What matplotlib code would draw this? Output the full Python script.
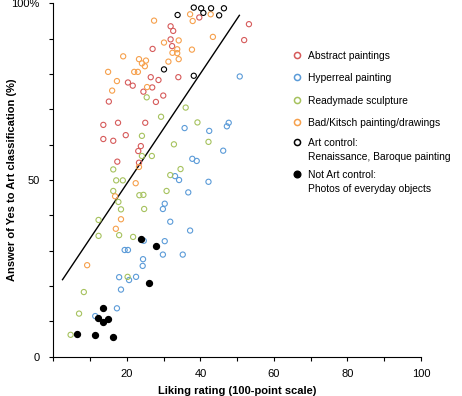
import numpy as np
from matplotlib import pyplot as plt

plt.rcParams['font.family'] = ['Liberation Sans', 'DejaVu Sans']
plt.rcParams['font.size'] = 8

# Liking rating (x) vs % "Yes, it is art" (y)
abstract_x = [39.7, 53.2, 51.9, 31.9, 32.6, 31.9, 32.3, 27.0, 34.0, 26.5, 28.6, 20.3, 21.6, 26.9, 24.5,
              29.9, 15.1, 27.9, 13.6, 17.6, 25.0, 13.6, 16.3, 19.7, 23.8, 23.1, 17.4, 23.3]
abstract_y = [96.0, 94.1, 89.6, 93.5, 92.2, 89.8, 87.9, 87.1, 79.1, 79.1, 78.3, 77.6, 76.7, 76.2, 75.0,
              73.9, 72.2, 72.1, 65.6, 66.2, 66.2, 61.6, 61.1, 62.7, 59.6, 58.2, 55.2, 54.9]

hyperreal_x = [50.7, 35.7, 47.7, 47.2, 42.4, 46.2, 37.8, 39.0, 33.1, 34.2, 42.2, 36.7, 30.3, 29.8, 31.8,
               37.2, 24.6, 30.3, 19.4, 20.3, 29.8, 35.2, 24.4, 24.3, 17.9, 20.6, 22.5, 18.4, 17.3, 11.4]
hyperreal_y = [79.3, 64.7, 66.2, 65.2, 63.9, 58.3, 56.0, 55.4, 51.1, 50.0, 49.5, 46.5, 43.3, 41.8, 38.2,
               35.7, 32.8, 32.7, 30.2, 30.2, 28.9, 28.9, 27.6, 25.7, 22.5, 21.7, 22.6, 19.0, 13.7, 11.5]

readymade_x = [25.4, 36.0, 29.3, 39.2, 24.1, 32.8, 24.1, 26.8, 16.3, 34.6, 31.8, 17.1, 18.9, 16.3, 30.8,
               23.4, 24.5, 17.7, 18.4, 24.7, 12.3, 12.3, 17.9, 21.7, 42.2, 20.2, 8.3, 7.0, 4.7]
readymade_y = [73.4, 70.5, 67.9, 66.3, 62.5, 60.1, 56.8, 56.8, 53.0, 53.1, 51.4, 49.9, 49.9, 46.9, 46.9,
               45.7, 45.8, 43.8, 41.7, 41.8, 38.7, 34.2, 34.4, 33.9, 60.8, 22.6, 18.3, 12.2, 6.2]

kitsch_x = [27.4, 37.2, 37.9, 42.8, 43.4, 30.1, 34.1, 33.7, 32.4, 33.7, 34.1, 31.3, 37.7, 19.0, 23.3,
            25.2, 24.1, 24.9, 14.9, 22.0, 23.0, 17.3, 25.5, 16.0, 23.3, 22.4, 16.8, 18.4, 17.0, 9.2]
kitsch_y = [95.1, 96.9, 95.0, 96.9, 90.5, 88.9, 89.5, 87.0, 86.0, 85.9, 84.2, 83.5, 86.9, 85.0, 84.2,
            83.8, 83.0, 82.2, 80.6, 80.6, 80.6, 78.0, 76.3, 75.3, 53.7, 49.1, 45.4, 38.9, 36.2, 25.9]

art_ctrl_x = [38.2, 33.8, 40.2, 40.8, 42.9, 46.4, 45.1, 30.1, 38.2]
art_ctrl_y = [98.8, 96.7, 98.6, 97.3, 98.6, 98.6, 96.6, 81.3, 79.5]

notart_x = [23.8, 28.0, 26.1, 13.6, 12.1, 14.8, 13.4, 6.5, 11.3, 16.3]
notart_y = [33.2, 31.4, 20.8, 13.8, 11.0, 10.8, 9.8, 6.5, 6.2, 5.7]

fit_x = [2.5, 50.6]
fit_y = [21.8, 96.6]

red = "#d65a5a"
blue = "#5b9bd8"
green = "#a6c25e"
orange = "#f6a04c"

fig = plt.figure(figsize=(4.62, 3.96), dpi=100)
ax = fig.add_axes([0.1154, 0.0992, 0.7959, 0.8924])

ms = 14
lw = 0.8
for xs, ys, c in [(abstract_x, abstract_y, red), (hyperreal_x, hyperreal_y, blue),
                  (readymade_x, readymade_y, green), (kitsch_x, kitsch_y, orange),
                  (art_ctrl_x, art_ctrl_y, "black")]:
    ax.scatter(xs, ys, s=ms, facecolors="none", edgecolors=c, linewidths=lw, clip_on=False, zorder=3)
ax.scatter(notart_x, notart_y, s=18, color="black", clip_on=False, zorder=4)

ax.plot(fit_x, fit_y, color="black", lw=1.0, zorder=2)

ax.set_xlim(0, 100)
ax.set_ylim(0, 100)
ax.set_xticks(np.arange(0, 101, 10))
ax.set_xticklabels(["" if v % 20 or v == 0 else str(v) for v in range(0, 101, 10)])
ax.set_yticks(np.arange(0, 101, 10))
ax.set_yticklabels(["0" if v == 0 else "50" if v == 50 else "100%" if v == 100 else "" for v in range(0, 101, 10)])
ax.tick_params(direction="out", length=3, width=0.8, labelsize=8)
ax.tick_params(axis="x", pad=6)
ax.tick_params(axis="y", pad=7)
for s in ["top", "right"]:
    ax.spines[s].set_visible(False)
for s in ["left", "bottom"]:
    ax.spines[s].set_linewidth(0.8)

ax.set_xlabel("Liking rating (100-point scale)", fontweight="bold", fontsize=8)
ax.set_ylabel("Answer of Yes to Art classification (%)", fontweight="bold", fontsize=8)
ax.xaxis.set_label_coords(0.5, -0.083)
ax.yaxis.set_label_coords(-0.099, 0.5)

# legend, drawn by hand so the two-line entries sit like the original
entries = [("Abstract paintings", red, False),
           ("Hyperreal painting", blue, False),
           ("Readymade sculpture", green, False),
           ("Bad/Kitsch painting/drawings", orange, False),
           ("Art control:\nRenaissance, Baroque painting", "black", False),
           ("Not Art control:\nPhotos of everyday objects", "black", True)]
rows_px = [55, 77, 99.5, 121.5, 142, 174]
for (label, c, filled), ypx in zip(entries, rows_px):
    yf = 1 - ypx / 396
    if filled:
        fig.add_artist(plt.Line2D([296.7 / 462], [yf], marker="o", markersize=4.8, color="black",
                                  transform=fig.transFigure))
    else:
        fig.add_artist(plt.Line2D([296.7 / 462], [yf], marker="o", markersize=4.4, markerfacecolor="none",
                                  markeredgecolor=c, markeredgewidth=1.1, transform=fig.transFigure))
    for i, line in enumerate(label.split("\n")):
        fig.text(307.5 / 462, 1 - (ypx + 4 + i * 14.3) / 396, line, fontsize=7.4, va="baseline")

plt.savefig("out.png", dpi=100)
